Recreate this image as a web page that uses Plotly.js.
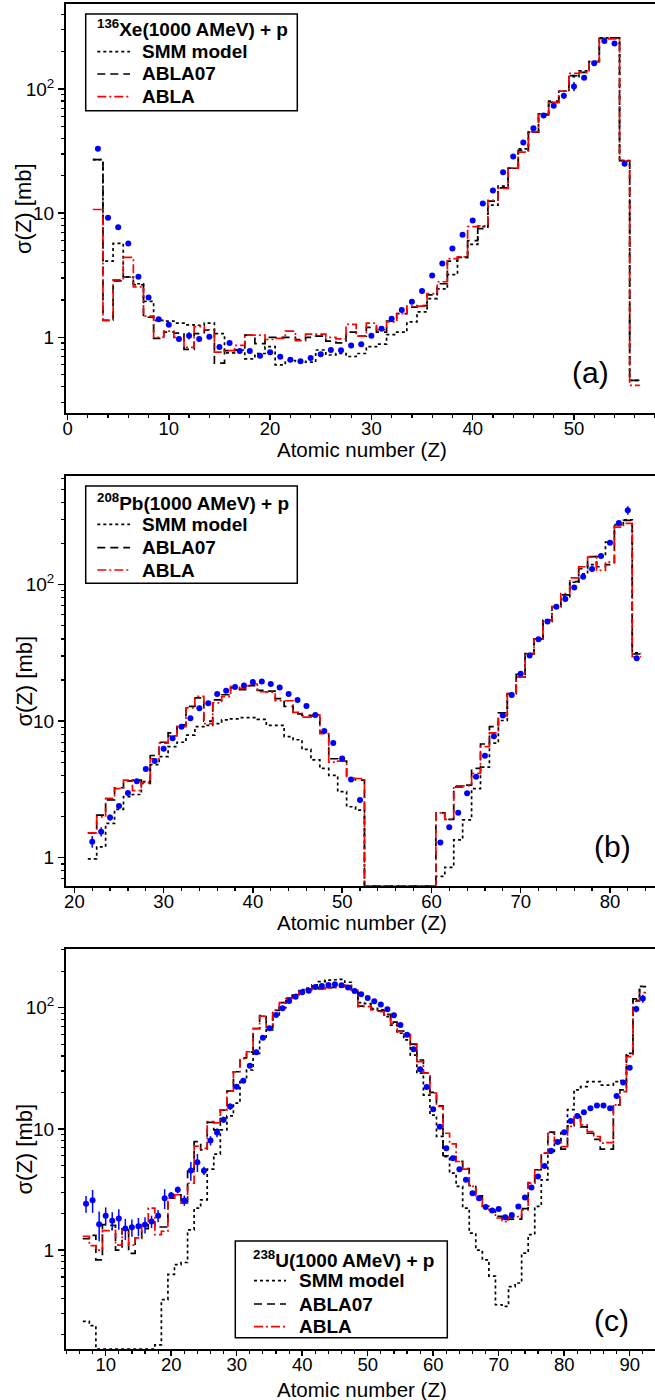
<!DOCTYPE html>
<html><head><meta charset="utf-8">
<script src="https://cdn.plot.ly/plotly-3.0.1.min.js"></script>
<style>html,body{margin:0;padding:0;background:#fff}</style>
</head><body><div id="chart" style="width:655px;height:1400px"></div>
<script>
// ---------------- Panel (a): 136Xe + p ----------------
const zHistA = [3,4,5,6,7,8,9,10,11,12,13,14,15,16,17,18,19,20,21,22,23,24,25,26,27,28,29,30,31,32,33,34,35,36,37,38,39,40,41,42,43,44,45,46,47,48,49,50,51,52,53,54,55,56];
const smmA   = [27,4.1,5.7,3.06,2.7,1.95,1.37,1.35,1.3,1.26,1.25,1.3,1.07,0.75,0.79,0.67,0.74,0.84,0.6,0.65,0.64,0.63,0.79,0.72,0.74,0.7,0.74,0.84,0.88,1.05,1.1,1.33,1.6,2.05,2.45,3.2,4.4,5.6,7.8,11.6,16.5,23,33,45,63,78,96,126,140,166,258,258,26.5,0.45];
const abla07A= [27,1.37,2.85,3.06,2.65,1.45,0.98,1.1,1.08,0.8,1.07,1.14,0.62,0.78,0.79,1.04,0.89,1.0,1.0,1.0,0.96,1.0,1.02,0.93,0.9,1.1,1.02,1.2,1.1,1.35,1.55,1.75,1.8,2.2,2.7,4.1,4.4,6.0,7.5,12.5,16,23,32,45,62,80,96,128,136,166,256,258,26.5,0.45];
const ablaA  = [10.7,1.37,2.9,4.4,2.55,1.48,1.0,1.12,1.0,0.83,1.22,1.15,0.76,0.78,0.86,1.04,1.04,0.96,0.98,1.12,0.94,1.06,1.06,1.0,0.97,1.27,1.02,1.3,1.15,1.33,1.55,1.78,1.78,2.25,2.8,4.3,4.45,7.8,7.9,12.7,15.8,23,31,45.3,63,78,96,134,136,166,254,254,26.3,0.41];
const zDataA = [3,4,5,6,7,8,9,10,11,12,13,14,15,16,17,18,19,20,21,22,23,24,25,26,27,28,29,30,31,32,33,34,35,36,37,38,39,40,41,42,43,44,45,46,47,48,49,50,51,52,53,54,55];
const dataA  = [33,9.2,7.7,5.7,3.08,2.09,1.40,1.26,0.97,1.03,0.97,1.01,0.836,0.90,0.776,0.776,0.711,0.757,0.698,0.66,0.64,0.68,0.73,0.79,0.785,0.857,0.88,1.03,1.17,1.41,1.66,1.93,2.36,3.14,3.93,5.19,6.69,8.73,11.97,15.2,21.4,28.6,37.1,48.2,61.3,73.4,88.4,105,123,161,244,233,25.0];
const errA   = [0,0,0,0,0,0,0,0,0,0.07,0,0,0,0,0,0,0,0,0,0,0,0,0,0,0,0,0,0,0,0,0,0,0,0,0,0,0,0,0,0,0,0,0,0,0,0,5,9,0,0,0,8,0];

// ---------------- Panel (b): 208Pb + p ----------------
const zHistB = [22,23,24,25,26,27,28,29,30,31,32,33,34,35,36,37,38,39,40,41,42,43,44,45,46,47,48,49,50,51,52,53,54,55,56,57,58,59,60,61,62,63,64,65,66,67,68,69,70,71,72,73,74,75,76,77,78,79,80,81,82,83];
const smmB   = [0.98,1.2,1.78,2.26,2.8,2.9,3.6,4.8,5.5,6.5,7.0,7.9,9.1,9.3,9.6,10.2,10.4,10.6,10.6,10.3,9.3,9.3,7.7,7.3,6.2,5.2,4.5,4.0,3.04,2.36,2.23,0.62,0.62,0.62,0.62,0.62,0.62,0.62,0.62,0.73,0.85,1.35,1.89,3.2,4.6,6.9,10.1,15.9,21,31.2,39.8,53.6,68.7,81.4,104,120,140,160,205,275,298,31.6];
const abla07B= [1.52,2.05,2.65,3.25,3.65,3.7,3.5,5.6,7.0,8.2,9.4,12.8,14.8,10.0,14.3,15.6,17.6,17.0,18.2,16.8,16.6,14.6,12.8,11.3,11.0,10.9,8.3,5.3,5.1,3.8,3.7,0.62,0.62,0.62,0.62,0.62,0.62,0.62,0.62,2.13,1.91,3.3,3.4,4.5,6.8,9.1,11.5,15.9,22,31,40,55,69,84,105,131,160,135,140,275,295,31];
const ablaB  = [1.52,1.99,2.72,3.2,3.7,3.1,3.54,5.3,6.9,7.8,9.1,12.5,15.2,9.6,13.6,15.1,18,17.4,18.7,16.4,16.3,14.1,14.1,11.6,10.7,11.1,8.1,5.0,5.1,3.8,3.8,0.62,0.62,0.62,0.62,0.62,0.62,0.62,0.62,2.13,1.91,3.35,3.35,4.14,6.5,8.2,10.9,15.9,21,31.2,39.8,54.7,68.7,86,112,135,159,127,146,263,281,29.6];
const zDataB = [22,23,24,25,26,27,28,29,30,31,32,33,34,35,36,37,38,39,40,41,42,43,44,45,46,47,48,49,50,51,52,61,62,63,64,65,66,67,68,69,70,71,72,73,74,75,76,77,78,79,80,81,82,83];
const dataB  = [1.31,1.55,1.97,2.39,2.97,3.62,4.45,5.1,6.28,7.5,9.1,10.5,12.4,13.5,15.8,16.7,17.8,18.2,19.3,19.5,18.7,17.6,15.8,14.3,12.9,11.1,8.45,6.9,5.33,3.74,2.64,1.29,1.67,2.13,2.96,3.91,5.57,7.76,11.0,15.5,22.2,30.2,39.8,53.6,68.7,78.5,95,114,130,162,202,282,350,28.9];
const errB   = [0.13,0.12,0.1,0,0,0,0,0,0,0,0,0,0,0,0,0,0,0,0,0,0,0,0,0,0,0,0,0,0,0,0.1,0,0,0,0,0,0,0,0,0,0,0,0,0,0,0,0,0,0,0,0,0,25,0];

// ---------------- Panel (c): 238U + p ----------------
const zHistC = [7,8,9,10,11,12,13,14,15,16,17,18,19,20,21,22,23,24,25,26,27,28,29,30,31,32,33,34,35,36,37,38,39,40,41,42,43,44,45,46,47,48,49,50,51,52,53,54,55,56,57,58,59,60,61,62,63,64,65,66,67,68,69,70,71,72,73,74,75,76,77,78,79,80,81,82,83,84,85,86,87,88,89,90,91,92];
const smmC   = [0.258,0.238,0.1527,0.1527,0.1527,0.1527,0.1527,0.1527,0.1527,0.1527,0.1527,0.165,0.39,0.63,0.76,0.79,1.47,2.22,2.6,4.65,6.2,9.8,12.8,16.3,25.3,30.6,42,55.9,65.5,87,100,120,128,141,145,154,164,169,170,171,162,140,110,108,98.5,95.8,84.2,71.7,61.5,54.3,40.6,28.8,19.0,13.0,8.66,5.91,4.31,3.35,2.22,1.38,1.0,0.83,0.61,0.354,0.343,0.5,0.535,0.945,1.34,2.29,3.8,6.3,8.0,9.5,14.4,21,22.3,24.5,24.5,23,23,24.5,25,42,115,150];
const abla07C= [1.24,1.32,0.83,1.62,1.6,1.0,1.5,0.94,1.25,1.5,1.7,1.55,1.55,2.68,2.86,2.5,4.6,7.85,6.7,11.3,9.8,14.3,20.5,29.6,38.5,43,67,86,68,95,110,120,127,135,142,147,143,146,147,150,153,140,103,103,97,94,88,76,64,60,50,37,29,20,15.5,6.0,5.9,5.4,4.7,3.4,2.8,2.3,2.15,1.9,1.78,1.8,1.8,2.2,3.6,4.6,6.3,9.4,8.0,6.8,10.6,12.6,10.4,9.2,8.2,6.8,6.8,15.8,21,40,118,149];
const ablaC  = [1.3,1.09,1.0,1.45,1.49,1.1,1.47,1.1,1.26,1.62,2.22,1.34,1.43,2.68,2.86,2.44,3.56,7.2,6.9,11.5,11.2,14.3,20.5,29.6,38,43.3,67.5,85,69,95.5,110,119,127,135,141,146,143,146,146,149,152,139,102,102,95.7,92.7,87,74.3,63.4,59.5,49.2,35.9,28.8,19.7,15.3,9.2,7.52,5.38,4.65,3.35,2.73,2.29,2.15,1.84,1.72,1.87,1.89,2.15,3.57,4.59,6.3,9.2,7.86,7.15,10.5,12.6,10.8,9.5,8.65,7.62,7.7,15.8,20.3,39.5,113,133];
const zDataC = zHistC;
const dataC  = [2.41,2.58,1.63,1.92,1.75,1.82,1.51,1.54,1.57,1.62,1.72,1.92,2.68,2.84,3.14,2.57,4.54,5.31,4.51,8.0,9.33,11.9,15.3,22.3,24.9,33.1,42.9,56.6,67.6,87.1,98.8,113.5,123,134,138,148,151,154,156,153,147,137,129,120,113,106,97,86.4,71.9,59.9,45.3,31,22.2,14.5,10.4,6.93,5.73,4.65,3.8,2.95,2.68,2.27,2.12,2.18,1.87,1.95,2.29,2.72,3.28,4.05,4.95,6.6,7.81,9.4,11.6,12.8,13.7,14.8,15.6,15.6,14.8,18.7,24.1,32,97.5,119];
const errC   = [0.38,0.55,0.45,0.33,0.3,0.35,0.3,0.25,0.27,0.25,0.2,0.22,0.5,0.17,0.2,0.25,0.8,0.9,0.35,0.7,0.8,0.7,0.9,0,0,0,0,0,0,0,0,0,0,0,0,0,0,0,0,0,0,0,0,0,0,0,0,0,0,0,0,0,0,0,0,0,0,0,0,0,0,0,0,0,0,0,0,0,0,0,0,0,0,0,0,0,0,0,0,0,0,0,0,0,6,9];

// ---------------- text ----------------
const headers = ['<b><sup>136</sup>Xe(1000 AMeV) + p</b>','<b><sup>208</sup>Pb(1000 AMeV) + p</b>','<b><sup>238</sup>U(1000 AMeV) + p</b>'];
const modelNames = ['SMM model','ABLA07','ABLA'];
const panelTags = ['(a)','(b)','(c)'];
const xTitle = 'Atomic number (Z)';
const yTitle = 'σ(Z) [mb]';

// ---------------- build ----------------
const FONT = 'Liberation Sans, Arial, Helvetica, sans-serif';
const W = 655, H = 1400, ML = 66;
const px2x = px => (px - ML) / (W - ML);
const px2y = py => 1 - py / H;
function step(z, v){
  const x = [], y = [];
  for (let i = 0; i < z.length; i++){ x.push(z[i]-0.5); y.push(v[i]); }
  x.push(z[z.length-1]+0.5); y.push(v[v.length-1]);
  return {x, y};
}
const styles = [
  {color:'#000000', dash:'3px,3px', width:1.7},
  {color:'#000000', dash:'8px,5px', width:1.7},
  {color:'#ff0000', dash:'9px,3px,2px,3px', width:1.7}
];
const panels = [
  {z:zHistA, s:[smmA,abla07A,ablaA], zd:zDataA, d:dataA, e:errA, xa:'x', ya:'y'},
  {z:zHistB, s:[smmB,abla07B,ablaB], zd:zDataB, d:dataB, e:errB, xa:'x2', ya:'y2'},
  {z:zHistC, s:[smmC,abla07C,ablaC], zd:zDataC, d:dataC, e:errC, xa:'x3', ya:'y3'}
];
const traces = [];
panels.forEach(p => {
  p.s.forEach((vals, k) => {
    const st = step(p.z, vals);
    traces.push({type:'scatter', mode:'lines', x:st.x, y:st.y, xaxis:p.xa, yaxis:p.ya,
      line:{shape:'hv', color:styles[k].color, dash:styles[k].dash, width:styles[k].width},
      name:modelNames[k], showlegend:false, hoverinfo:'skip'});
  });
  traces.push({type:'scatter', mode:'markers', x:p.zd, y:p.d, xaxis:p.xa, yaxis:p.ya, name:'data',
    marker:{color:'#0000ff', size:6}, showlegend:false,
    error_y:{type:'data', array:p.e, visible:true, color:'#0000ff', thickness:1.5, width:0}});
});

const MINOR = [0.1,0.2,0.3,0.4,0.5,0.6,0.7,0.8,0.9,2,3,4,5,6,7,8,9,20,30,40,50,60,70,80,90,200,300,400,500,600,700,800,900];
const tickFont = {family:FONT, size:18.5, color:'#000'};
function xCfg(range, anchor){
  return {domain:[0,1], anchor, range, tick0:0, dtick:10, ticks:'outside', ticklen:5, tickwidth:1.5, tickcolor:'#000',
    ticklabelstandoff:-7,
    minor:{tick0:0, dtick:2, ticks:'outside', ticklen:3, tickwidth:1.2, tickcolor:'#000', showgrid:false},
    showline:true, linecolor:'#000', linewidth:2, mirror:true, showgrid:false, zeroline:false, tickfont:tickFont,
    automargin:false};
}
function yCfg(domain, range, anchor){
  return {type:'log', domain, anchor, range, tickmode:'array', tickvals:[1,10,100], ticktext:['1','10','10<sup>2</sup>'],
    ticks:'outside', ticklen:6, tickwidth:1.5, tickcolor:'#000',
    minor:{tickmode:'array', tickvals:MINOR, ticks:'outside', ticklen:3.5, tickwidth:1.2, tickcolor:'#000', showgrid:false},
    showline:true, linecolor:'#000', linewidth:2, mirror:false, showgrid:false, zeroline:false, tickfont:{family:FONT, size:19, color:'#000'},
    automargin:false};
}

// legend boxes (layout positions in pixels)
const legendGeo = [
  {box:[85.7,14,297.3,110.7], headX:95, l0:97.3, l1:130, tx:140, rows:[30,51.7,74,96.7]},
  {box:[85.7,486,297.3,583.3], headX:95, l0:97.3, l1:130, tx:140, rows:[503.3,524.3,547.7,570]},
  {box:[235.3,1241,447.3,1337.7], headX:250.7, l0:254, l1:286, tx:296.7, rows:[1260,1280.7,1304,1326.7]}
];
const shapes = [], annotations = [];
legendGeo.forEach((g, i) => {
  shapes.push({type:'rect', xref:'paper', yref:'paper', layer:'above',
    x0:px2x(g.box[0]), x1:px2x(g.box[2]), y0:px2y(g.box[1]), y1:px2y(g.box[3]),
    line:{color:'#000', width:1.5}, fillcolor:'#fff'});
  annotations.push({text:headers[i], xref:'paper', yref:'paper', x:px2x(g.headX), y:px2y(g.rows[0]-1.5),
    xanchor:'left', yanchor:'middle', showarrow:false, font:{family:FONT, size:19, color:'#000'}});
  for (let k = 0; k < 3; k++){
    const yy = px2y(g.rows[k+1]);
    shapes.push({type:'line', xref:'paper', yref:'paper', layer:'above', x0:px2x(g.l0), x1:px2x(g.l1), y0:yy, y1:yy,
      line:{color:styles[k].color, dash:styles[k].dash, width:styles[k].width}});
    annotations.push({text:'<b>'+modelNames[k]+'</b>', xref:'paper', yref:'paper', x:px2x(g.tx), y:yy,
      xanchor:'left', yanchor:'middle', showarrow:false, font:{family:FONT, size:19, color:'#000'}});
  }
});
// panel tags
[[590,372],[612.7,846.7],[611.7,1320]].forEach((p, i) => {
  annotations.push({text:panelTags[i], xref:'paper', yref:'paper', x:px2x(p[0]), y:px2y(p[1]),
    xanchor:'center', yanchor:'middle', showarrow:false, font:{family:FONT, size:30, color:'#000'}});
});
// axis titles
[449, 922, 1389].forEach(py => {
  annotations.push({text:xTitle, xref:'paper', yref:'paper', x:px2x(362), y:px2y(py),
    xanchor:'center', yanchor:'middle', showarrow:false, font:{family:FONT, size:20.5, color:'#000'}});
});
[208.5, 681, 1149].forEach(py => {
  annotations.push({text:yTitle, xref:'paper', yref:'paper', x:px2x(23.5), y:px2y(py), textangle:-90,
    xanchor:'center', yanchor:'middle', showarrow:false, font:{family:FONT, size:22, color:'#000'}});
});

const layout = {
  width:W, height:H, margin:{l:ML, r:0, t:0, b:0}, paper_bgcolor:'#fff', plot_bgcolor:'#fff',
  font:{family:FONT, color:'#000'}, showlegend:false,
  xaxis: xCfg([-0.15, 58.0], 'y'),
  xaxis2: xCfg([19.06, 85.05], 'y2'),
  xaxis3: xCfg([3.94, 93.86], 'y3'),
  yaxis: yCfg([0.705, 0.99714], [-0.61, 2.685], 'x'),
  yaxis2: yCfg([0.36714, 0.66], [-0.2076, 2.795], 'x2'),
  yaxis3: yCfg([0.03643, 0.32214], [-0.816, 2.484], 'x3'),
  shapes, annotations
};
Plotly.newPlot('chart', traces, layout, {displayModeBar:false, staticPlot:true});
</script></body></html>
